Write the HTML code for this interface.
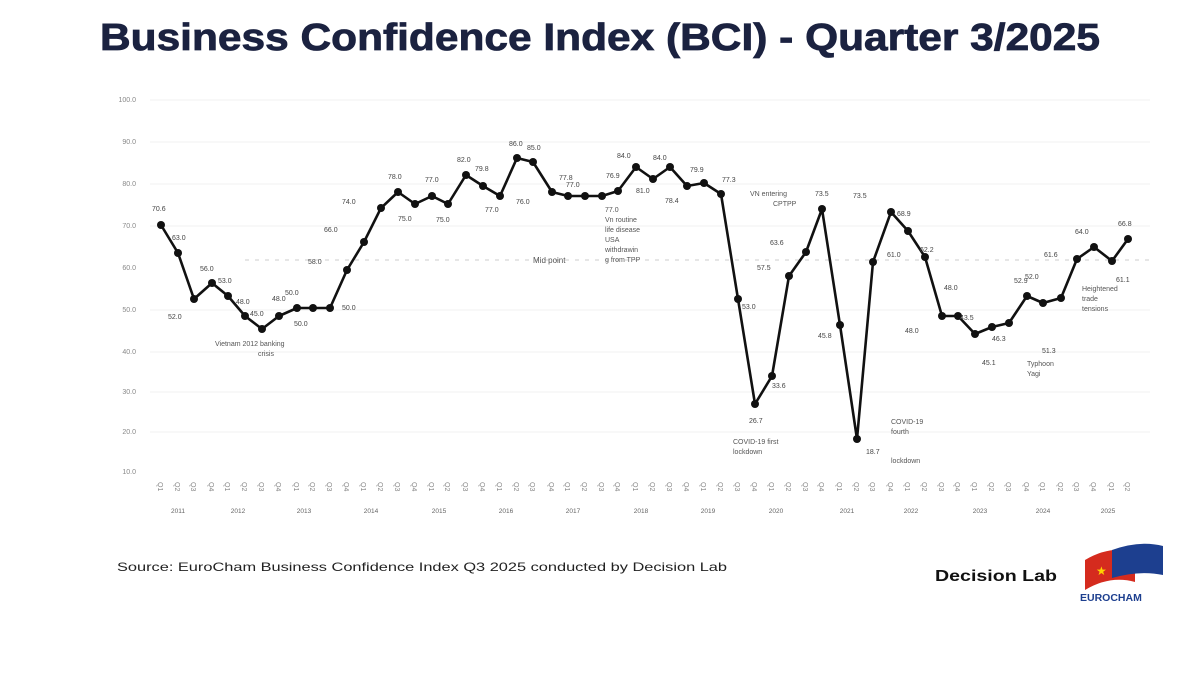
<!DOCTYPE html>
<html><head><meta charset="utf-8"><style>
html,body{margin:0;padding:0;background:#fff;width:1198px;height:676px;overflow:hidden}
body{font-family:"Liberation Sans",sans-serif}
</style></head><body>
<svg width="1198" height="676" viewBox="0 0 1198 676" xmlns="http://www.w3.org/2000/svg" font-family="Liberation Sans, sans-serif">
<text x="100" y="50" font-size="38" font-weight="bold" fill="#1b2240" textLength="1000" lengthAdjust="spacingAndGlyphs" stroke="#1b2240" stroke-width="0.8">Business Confidence Index (BCI) - Quarter 3/2025</text>
<g font-size="7" fill="#888" text-anchor="end">
<text x="136" y="102">100.0</text><text x="136" y="144">90.0</text><text x="136" y="186">80.0</text><text x="136" y="228">70.0</text><text x="136" y="270">60.0</text><text x="136" y="312">50.0</text><text x="136" y="354">40.0</text><text x="136" y="394">30.0</text><text x="136" y="434">20.0</text><text x="136" y="474">10.0</text>
</g>
<g stroke="#f2f2f2" stroke-width="1">
<line x1="150" y1="100" x2="1150" y2="100"/><line x1="150" y1="142" x2="1150" y2="142"/><line x1="150" y1="184" x2="1150" y2="184"/><line x1="150" y1="226" x2="1150" y2="226"/><line x1="150" y1="310" x2="1150" y2="310"/><line x1="150" y1="352" x2="1150" y2="352"/><line x1="150" y1="392" x2="1150" y2="392"/><line x1="150" y1="432" x2="1150" y2="432"/>
</g>
<line x1="245" y1="260" x2="1150" y2="260" stroke="#ccc" stroke-dasharray="4 6"/>
<text x="533" y="263" font-size="8" fill="#555">Mid point</text>
<polyline fill="none" stroke="#111" stroke-width="2.6" stroke-linejoin="round" points="161,225 178,253 194,299 212,283 228,296 245,316 262,329 279,316 297,308 313,308 330,308 347,270 364,242 381,208 398,192 415,204 432,196 448,204 466,175 483,186 500,196 517,158 533,162 552,192 568,196 585,196 602,196 618,191 636,167 653,179 670,167 687,186 704,183 721,194 738,299 755,404 772,376 789,276 806,252 822,209 840,325 857,439 873,262 891,212 908,231 925,257 942,316 958,316 975,334 992,327 1009,323 1027,296 1043,303 1061,298 1077,259 1094,247 1112,261 1128,239"/>
<g fill="#111">
<circle cx="161" cy="225" r="4"/><circle cx="178" cy="253" r="4"/><circle cx="194" cy="299" r="4"/><circle cx="212" cy="283" r="4"/><circle cx="228" cy="296" r="4"/><circle cx="245" cy="316" r="4"/><circle cx="262" cy="329" r="4"/><circle cx="279" cy="316" r="4"/><circle cx="297" cy="308" r="4"/><circle cx="313" cy="308" r="4"/><circle cx="330" cy="308" r="4"/><circle cx="347" cy="270" r="4"/><circle cx="364" cy="242" r="4"/><circle cx="381" cy="208" r="4"/><circle cx="398" cy="192" r="4"/><circle cx="415" cy="204" r="4"/><circle cx="432" cy="196" r="4"/><circle cx="448" cy="204" r="4"/><circle cx="466" cy="175" r="4"/><circle cx="483" cy="186" r="4"/><circle cx="500" cy="196" r="4"/><circle cx="517" cy="158" r="4"/><circle cx="533" cy="162" r="4"/><circle cx="552" cy="192" r="4"/><circle cx="568" cy="196" r="4"/><circle cx="585" cy="196" r="4"/><circle cx="602" cy="196" r="4"/><circle cx="618" cy="191" r="4"/><circle cx="636" cy="167" r="4"/><circle cx="653" cy="179" r="4"/><circle cx="670" cy="167" r="4"/><circle cx="687" cy="186" r="4"/><circle cx="704" cy="183" r="4"/><circle cx="721" cy="194" r="4"/><circle cx="738" cy="299" r="4"/><circle cx="755" cy="404" r="4"/><circle cx="772" cy="376" r="4"/><circle cx="789" cy="276" r="4"/><circle cx="806" cy="252" r="4"/><circle cx="822" cy="209" r="4"/><circle cx="840" cy="325" r="4"/><circle cx="857" cy="439" r="4"/><circle cx="873" cy="262" r="4"/><circle cx="891" cy="212" r="4"/><circle cx="908" cy="231" r="4"/><circle cx="925" cy="257" r="4"/><circle cx="942" cy="316" r="4"/><circle cx="958" cy="316" r="4"/><circle cx="975" cy="334" r="4"/><circle cx="992" cy="327" r="4"/><circle cx="1009" cy="323" r="4"/><circle cx="1027" cy="296" r="4"/><circle cx="1043" cy="303" r="4"/><circle cx="1061" cy="298" r="4"/><circle cx="1077" cy="259" r="4"/><circle cx="1094" cy="247" r="4"/><circle cx="1112" cy="261" r="4"/><circle cx="1128" cy="239" r="4"/>
</g>
<g font-size="7" fill="#444">
<text x="152" y="211">70.6</text><text x="172" y="240">63.0</text><text x="168" y="319">52.0</text><text x="200" y="271">56.0</text><text x="218" y="283">53.0</text><text x="236" y="304">48.0</text><text x="250" y="316">45.0</text><text x="272" y="301">48.0</text><text x="285" y="295">50.0</text><text x="294" y="326">50.0</text><text x="342" y="310">50.0</text><text x="308" y="264">58.0</text><text x="324" y="232">66.0</text><text x="342" y="204">74.0</text><text x="388" y="179">78.0</text><text x="398" y="221">75.0</text><text x="425" y="182">77.0</text><text x="436" y="222">75.0</text><text x="457" y="162">82.0</text><text x="475" y="171">79.8</text><text x="485" y="212">77.0</text><text x="509" y="146">86.0</text><text x="527" y="150">85.0</text><text x="516" y="204">76.0</text><text x="559" y="180">77.8</text><text x="566" y="187">77.0</text><text x="606" y="178">76.9</text><text x="617" y="158">84.0</text><text x="636" y="193">81.0</text><text x="653" y="160">84.0</text><text x="665" y="203">78.4</text><text x="690" y="172">79.9</text><text x="722" y="182">77.3</text><text x="742" y="309">53.0</text><text x="749" y="423">26.7</text><text x="772" y="388">33.6</text><text x="757" y="270">57.5</text><text x="770" y="245">63.6</text><text x="815" y="196">73.5</text><text x="818" y="338">45.8</text><text x="866" y="454">18.7</text><text x="887" y="257">61.0</text><text x="853" y="198">73.5</text><text x="897" y="216">68.9</text><text x="920" y="252">62.2</text><text x="944" y="290">48.0</text><text x="905" y="333">48.0</text><text x="960" y="320">43.5</text><text x="982" y="365">45.1</text><text x="992" y="341">46.3</text><text x="1014" y="283">52.9</text><text x="1042" y="353">51.3</text><text x="1025" y="279">52.0</text><text x="1044" y="257">61.6</text><text x="1075" y="234">64.0</text><text x="1116" y="282">61.1</text><text x="1118" y="226">66.8</text>
</g>
<g font-size="7" fill="#555">
<text x="215" y="346">Vietnam 2012 banking</text><text x="258" y="356">crisis</text>
<text x="605" y="212">77.0</text><text x="605" y="222">Vn routine</text><text x="605" y="232">life disease</text><text x="605" y="242">USA</text><text x="605" y="252">withdrawin</text><text x="605" y="262">g from TPP</text>
<text x="733" y="444">COVID-19 first</text><text x="733" y="454">lockdown</text>
<text x="750" y="196">VN entering</text><text x="773" y="206">CPTPP</text>
<text x="891" y="424">COVID-19</text><text x="891" y="434">fourth</text><text x="891" y="463">lockdown</text>
<text x="1027" y="366">Typhoon</text><text x="1027" y="376">Yagi</text>
<text x="1082" y="291">Heightened</text><text x="1082" y="301">trade</text><text x="1082" y="311">tensions</text>
</g>
<g font-size="6.5" fill="#666" text-anchor="middle">
<text x="178" y="513">2011</text><text x="238" y="513">2012</text><text x="304" y="513">2013</text><text x="371" y="513">2014</text><text x="439" y="513">2015</text><text x="506" y="513">2016</text><text x="573" y="513">2017</text><text x="641" y="513">2018</text><text x="708" y="513">2019</text><text x="776" y="513">2020</text><text x="847" y="513">2021</text><text x="911" y="513">2022</text><text x="980" y="513">2023</text><text x="1043" y="513">2024</text><text x="1108" y="513">2025</text>
</g>
<g font-size="7" fill="#888">
<text transform="translate(158,482) rotate(90)">Q1</text><text transform="translate(175,482) rotate(90)">Q2</text><text transform="translate(191,482) rotate(90)">Q3</text><text transform="translate(209,482) rotate(90)">Q4</text><text transform="translate(225,482) rotate(90)">Q1</text><text transform="translate(242,482) rotate(90)">Q2</text><text transform="translate(259,482) rotate(90)">Q3</text><text transform="translate(276,482) rotate(90)">Q4</text><text transform="translate(294,482) rotate(90)">Q1</text><text transform="translate(310,482) rotate(90)">Q2</text><text transform="translate(327,482) rotate(90)">Q3</text><text transform="translate(344,482) rotate(90)">Q4</text><text transform="translate(361,482) rotate(90)">Q1</text><text transform="translate(378,482) rotate(90)">Q2</text><text transform="translate(395,482) rotate(90)">Q3</text><text transform="translate(412,482) rotate(90)">Q4</text><text transform="translate(429,482) rotate(90)">Q1</text><text transform="translate(445,482) rotate(90)">Q2</text><text transform="translate(463,482) rotate(90)">Q3</text><text transform="translate(480,482) rotate(90)">Q4</text><text transform="translate(497,482) rotate(90)">Q1</text><text transform="translate(514,482) rotate(90)">Q2</text><text transform="translate(530,482) rotate(90)">Q3</text><text transform="translate(549,482) rotate(90)">Q4</text><text transform="translate(565,482) rotate(90)">Q1</text><text transform="translate(582,482) rotate(90)">Q2</text><text transform="translate(599,482) rotate(90)">Q3</text><text transform="translate(615,482) rotate(90)">Q4</text><text transform="translate(633,482) rotate(90)">Q1</text><text transform="translate(650,482) rotate(90)">Q2</text><text transform="translate(667,482) rotate(90)">Q3</text><text transform="translate(684,482) rotate(90)">Q4</text><text transform="translate(701,482) rotate(90)">Q1</text><text transform="translate(718,482) rotate(90)">Q2</text><text transform="translate(735,482) rotate(90)">Q3</text><text transform="translate(752,482) rotate(90)">Q4</text><text transform="translate(769,482) rotate(90)">Q1</text><text transform="translate(786,482) rotate(90)">Q2</text><text transform="translate(803,482) rotate(90)">Q3</text><text transform="translate(819,482) rotate(90)">Q4</text><text transform="translate(837,482) rotate(90)">Q1</text><text transform="translate(854,482) rotate(90)">Q2</text><text transform="translate(870,482) rotate(90)">Q3</text><text transform="translate(888,482) rotate(90)">Q4</text><text transform="translate(905,482) rotate(90)">Q1</text><text transform="translate(922,482) rotate(90)">Q2</text><text transform="translate(939,482) rotate(90)">Q3</text><text transform="translate(955,482) rotate(90)">Q4</text><text transform="translate(972,482) rotate(90)">Q1</text><text transform="translate(989,482) rotate(90)">Q2</text><text transform="translate(1006,482) rotate(90)">Q3</text><text transform="translate(1024,482) rotate(90)">Q4</text><text transform="translate(1040,482) rotate(90)">Q1</text><text transform="translate(1058,482) rotate(90)">Q2</text><text transform="translate(1074,482) rotate(90)">Q3</text><text transform="translate(1091,482) rotate(90)">Q4</text><text transform="translate(1109,482) rotate(90)">Q1</text><text transform="translate(1125,482) rotate(90)">Q2</text>
</g>
<text x="117" y="571" font-size="12" fill="#222" textLength="610" lengthAdjust="spacingAndGlyphs">Source: EuroCham Business Confidence Index Q3 2025 conducted by Decision Lab</text>
<text x="935" y="581" font-size="16" font-weight="bold" fill="#111" textLength="122" lengthAdjust="spacingAndGlyphs">Decision Lab</text>
<g>
<path d="M1085,560 Q1110,545 1135,552 L1135,582 Q1110,575 1085,590 Z" fill="#d52b1e"/>
<path d="M1112,550 Q1140,540 1163,546 L1163,575 Q1140,570 1112,578 Z" fill="#1d3f8f"/>
<text x="1096" y="575" font-size="12" fill="#ffd200">★</text>
<text x="1080" y="601" font-size="10.5" font-weight="bold" fill="#1d3f8f">EUROCHAM</text>
</g>
</svg>
</body></html>
